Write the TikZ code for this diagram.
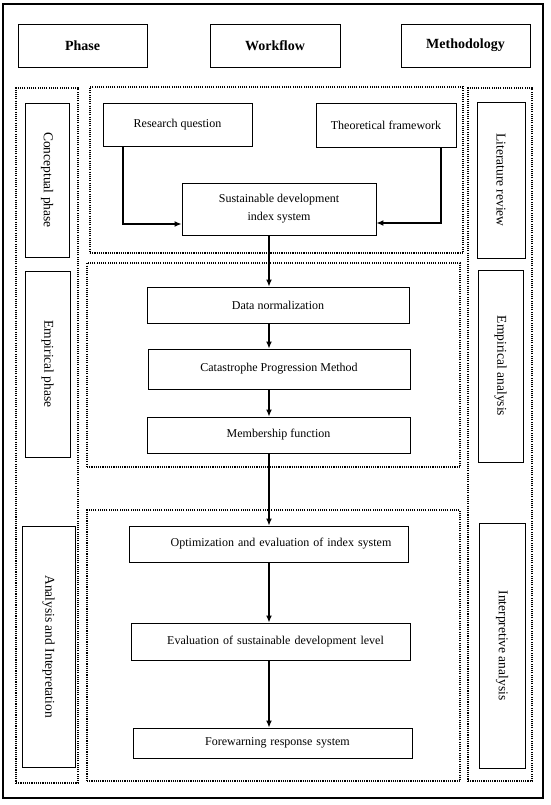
\documentclass[tikz,border=0pt]{standalone}
\usepackage{fontspec}
\setmainfont{Liberation Serif}
\usetikzlibrary{arrows.meta}
\begin{document}
\begin{tikzpicture}[x=1pt,y=-1pt,
  box/.style={draw,line width=0.9pt,inner sep=0pt,font=\fontsize{12}{14.5}\selectfont},
  head/.style={draw,line width=0.9pt,inner sep=0pt,minimum width=129,minimum height=43,font=\bfseries\fontsize{14}{16}\selectfont},
  vbox/.style={draw,line width=0.9pt,inner sep=0pt,rotate=-90,font=\fontsize{13.5}{16}\selectfont},
  region/.style={draw,line width=1.5pt,dash pattern=on 1.1pt off 1.1pt,inner sep=0pt},
  arr/.style={line width=1.3pt,-{Latex[length=7pt,width=6pt]}}]
\useasboundingbox (0,0) rectangle (550,805);
% outer frame
\node[draw,line width=1.8pt,inner sep=0pt,minimum width=540,minimum height=794] (frame) at (273,401) {};
% headers
\node[head] (phase) at (82.5,45.5) {Phase};
\node[head,minimum width=130] (workflow) at (275,45.5) {Workflow};
\node[head] (method) at (465.5,45.5) {Methodology};
% dotted regions
\node[region,minimum width=62,minimum height=695] (lcol) at (47,435.5) {};
\node[region,minimum width=64,minimum height=693] (rcol) at (500,434.5) {};
\node[region,minimum width=373,minimum height=166] (reg1) at (276.5,170) {};
\node[region,minimum width=373,minimum height=204] (reg2) at (273.5,365) {};
\node[region,minimum width=373,minimum height=271] (reg3) at (273.5,645.5) {};
% phase boxes
\node[vbox,minimum width=154,minimum height=44] (concept) at (47,180) {Conceptual phase};
\node[vbox,minimum width=186,minimum height=45] (empir) at (47.5,364) {Empirical phase};
\node[vbox,minimum width=241,minimum height=53] (anal) at (48.5,646.5) {Analysis and Intepretation};
% methodology boxes
\node[vbox,minimum width=156,minimum height=48] (lit) at (501,180) {Literature review};
\node[vbox,minimum width=192,minimum height=45] (empan) at (500.5,366) {Empirical analysis};
\node[vbox,minimum width=245,minimum height=46] (interp) at (502,645.5) {Interpretive analysis};
% workflow boxes
\node[box,minimum width=149,minimum height=43] (rq) at (177.5,124.5) {Research question};
\node[box,minimum width=140,minimum height=44] (tf) at (386,125) {Theoretical framework};
\node[box,minimum width=194,minimum height=52,align=center,font=\fontsize{12}{18}\selectfont] (sd) at (279,209) {Sustainable development\\index system};
\node[box,minimum width=262,minimum height=36] (dn) at (278,305) {Data normalization};
\node[box,minimum width=262,minimum height=40] (cpm) at (279,369) {Catastrophe Progression Method};
\node[box,minimum width=263,minimum height=36] (mf) at (278.5,435) {Membership function};
\node[box,minimum width=279,minimum height=36,text width=279,align=center] (oe) at (268.5,544) {\hspace*{25pt}Optimization and evaluation of index system};
\node[box,minimum width=279,minimum height=37,text width=279,align=center] (ev) at (270.5,641.5) {\hspace*{10pt}Evaluation of sustainable development level};
\node[box,minimum width=279,minimum height=30,text width=279,align=center] (fr) at (272.5,743) {\hspace*{10pt}Forewarning response system};
% connectors
\coordinate (rqc) at (123,224);
\coordinate (tfc) at (441,223);
\coordinate (sp) at (269,0);
\draw[arr] (rqc |- rq.south) -- (rqc) -- (rqc -| sd.west);
\draw[arr] (tfc |- tf.south) -- (tfc) -- (tfc -| sd.east);
\draw[arr] (sp |- sd.south) -- (sp |- dn.north);
\draw[arr] (sp |- dn.south) -- (sp |- cpm.north);
\draw[arr] (sp |- cpm.south) -- (sp |- mf.north);
\draw[arr] (sp |- mf.south) -- (sp |- oe.north);
\draw[arr] (sp |- oe.south) -- (sp |- ev.north);
\draw[arr] (sp |- ev.south) -- (sp |- fr.north);
\end{tikzpicture}
\end{document}
